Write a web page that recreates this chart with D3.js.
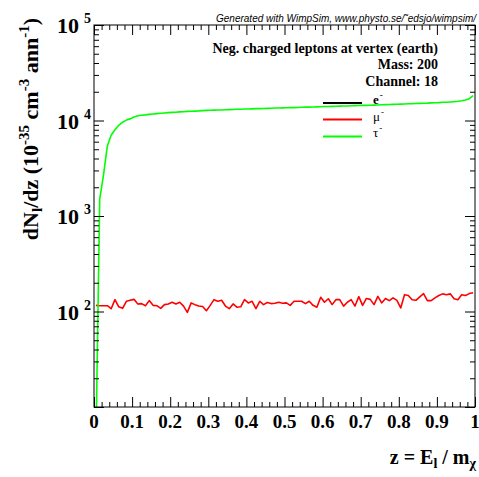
<!DOCTYPE html>
<html><head><meta charset="utf-8">
<script src="https://cdn.jsdelivr.net/npm/d3@7"></script>
<style>
body{margin:0;background:#fff}
svg{display:block}
text{font-family:"Liberation Serif","Times New Roman",serif;font-weight:bold;fill:#000}
</style>
</head><body><svg id="c" width="479" height="477"></svg>
<script>
// ---- data ----
const nBins = 100;            // histogram bins over z in [0,1]
const zDomain = [0, 1];
const xTickLabels = ["0","0.1","0.2","0.3","0.4","0.5","0.6","0.7","0.8","0.9","1"];
const xTickValues = [0,0.1,0.2,0.3,0.4,0.5,0.6,0.7,0.8,0.9,1];
const yTickExponents = [2,3,4,5];
const yDomain = [10, 1e5];
const seriesNames = ["e", "μ", "τ"];
const seriesColors = ["#000000", "#ff0000", "#00ff00"];
// e- : no visible values on this plot (zero everywhere)
const eValues = [];
const muValues = [116,115,115,115,107,133,112,108,128,131,
 134,120,121,115,130,116,115,108,118,120,
 125,120,125,114,98,123,118,114,113,102,
 116,133,128,131,114,107,120,111,112,133,
 123,128,107,128,118,124,121,122,125,122,
 123,116,128,128,128,121,128,116,111,141,
 125,136,118,133,133,114,125,133,114,143,
 116,137,134,118,144,123,137,130,139,131,
 109,150,147,133,131,142,154,130,130,139,
 147,153,150,153,136,133,150,147,154,157];
const tauValues = [4,1500,2700,5400,7000,8000,8900,9600,10100,10400,
 10900,11200,11350,11450,11600,11700,11800,11900,12000,12100,
 12150,12200,12300,12350,12450,12500,12550,12600,12700,12750,
 12800,12850,12900,12900,12950,13000,13050,13100,13100,13200,
 13200,13250,13300,13300,13350,13400,13450,13500,13500,13550,
 13600,13650,13650,13700,13750,13800,13800,13850,13900,13950,
 14000,14000,14050,14100,14150,14200,14200,14250,14300,14350,
 14400,14400,14450,14500,14550,14600,14650,14700,14750,14800,
 14850,14900,14950,15000,15050,15100,15150,15200,15300,15350,
 15400,15500,15550,15650,15750,15900,16100,16400,16900,18200];

// ---- layout ----
const L = 94, R = 475, T = 25, B = 407;
const svg = d3.select("#c");
const x = d3.scaleLinear().domain(zDomain).range([L, R]);
const y = d3.scaleLog().domain(yDomain).range([B, T]);

svg.append("defs").append("clipPath").attr("id","clip")
  .append("rect").attr("x",L).attr("y",T).attr("width",R-L).attr("height",B-T);

// curves
const binCenter = i => zDomain[0] + (i + 0.5) * (zDomain[1]-zDomain[0]) / nBins;
const line = d3.line().defined(d => d.v > 0).x(d => x(d.z)).y(d => y(d.v));
const series = [eValues, muValues, tauValues];
const gCurves = svg.append("g").attr("clip-path","url(#clip)");
series.forEach((vals, k) => {
  if (!vals.length) return;
  gCurves.append("path")
    .datum(vals.map((v,i) => ({z: binCenter(i), v})))
    .attr("fill","none").attr("stroke", seriesColors[k]).attr("stroke-width",1.6)
    .attr("stroke-linejoin","round")
    .attr("d", line);
});

// minor ticks
const xMinor = d3.range(0, 51).map(i => i/50).filter(v => Math.round(v*50) % 5 !== 0);
const yMinor = [];
[1,2,3,4].forEach(e => { for (let m = 2; m <= 9; m++) yMinor.push(m * Math.pow(10, e)); });
const yMajor = yTickExponents.map(e => Math.pow(10, e)).concat([10]);

function styleAxis(g){ g.select(".domain").remove(); g.selectAll(".tick line").attr("stroke","#000").attr("stroke-width",1); }

// bottom
svg.append("g").attr("transform",`translate(0,${B})`)
  .call(d3.axisBottom(x).tickValues(xTickValues).tickSize(-10).tickFormat(""))
  .call(styleAxis);
svg.append("g").attr("transform",`translate(0,${B})`)
  .call(d3.axisBottom(x).tickValues(xMinor).tickSize(-5).tickFormat(""))
  .call(styleAxis);
// top
svg.append("g").attr("transform",`translate(0,${T})`)
  .call(d3.axisTop(x).tickValues(xTickValues).tickSize(-10).tickFormat(""))
  .call(styleAxis);
svg.append("g").attr("transform",`translate(0,${T})`)
  .call(d3.axisTop(x).tickValues(xMinor).tickSize(-5).tickFormat(""))
  .call(styleAxis);
// left
svg.append("g").attr("transform",`translate(${L},0)`)
  .call(d3.axisLeft(y).tickValues(yMajor).tickSize(-10).tickFormat(""))
  .call(styleAxis);
svg.append("g").attr("transform",`translate(${L},0)`)
  .call(d3.axisLeft(y).tickValues(yMinor).tickSize(-5).tickFormat(""))
  .call(styleAxis);
// right
svg.append("g").attr("transform",`translate(${R},0)`)
  .call(d3.axisRight(y).tickValues(yMajor).tickSize(-10).tickFormat(""))
  .call(styleAxis);
svg.append("g").attr("transform",`translate(${R},0)`)
  .call(d3.axisRight(y).tickValues(yMinor).tickSize(-5).tickFormat(""))
  .call(styleAxis);

// frame
svg.append("rect").attr("x",L).attr("y",T).attr("width",R-L).attr("height",B-T)
  .attr("fill","none").attr("stroke","#000").attr("stroke-width",1);

// x tick labels
svg.append("g").selectAll("text").data(xTickValues).join("text")
  .attr("x", d => x(d)).attr("y", 428).attr("text-anchor","middle")
  .attr("font-size",19).text((d,i) => xTickLabels[i]);

// y tick labels 10^n
yTickExponents.forEach(e => {
  const yy = y(Math.pow(10,e));
  svg.append("text").attr("x", 79).attr("y", yy + 8)
    .attr("text-anchor","end").attr("font-size",22).text("10");
  svg.append("text").attr("x", 84).attr("y", yy - 2)
    .attr("text-anchor","start").attr("font-size",14).text(String(e));
});

// axis titles
const xt = svg.append("text").attr("x", 476).attr("y", 464).attr("text-anchor","end").attr("font-size",20);
xt.append("tspan").text("z = E");
xt.append("tspan").attr("dy",4).attr("font-size",14).text("l");
xt.append("tspan").attr("dy",-4).text(" / m");
xt.append("tspan").attr("dy",4).attr("font-size",14).text("χ");

const yt = svg.append("text").attr("transform","translate(38,18) rotate(-90)")
  .attr("text-anchor","end").attr("font-size",22);
yt.append("tspan").text("dN");
yt.append("tspan").attr("dy",4).attr("font-size",15).text("l");
yt.append("tspan").attr("dy",-4).text("/dz (10");
yt.append("tspan").attr("dy",-9).attr("font-size",15).text("-35");
yt.append("tspan").attr("dy",9).text(" cm");
yt.append("tspan").attr("dy",-9).attr("font-size",15).text("-3");
yt.append("tspan").attr("dy",9).text(" ann");
yt.append("tspan").attr("dy",-9).attr("font-size",15).text("-1");
yt.append("tspan").attr("dy",9).text(")");

// header text
svg.append("text").attr("x",476).attr("y",22).attr("text-anchor","end")
  .style("font-family",'"Liberation Sans",Arial,sans-serif').style("font-weight","normal")
  .style("font-style","italic").attr("font-size",10)
  .text("Generated with WimpSim, www.physto.se/˜edsjo/wimpsim/");

const info = ["Neg. charged leptons at vertex (earth)", "Mass: 200", "Channel: 18"];
const infoY = [53, 69, 86];
info.forEach((s,i) => svg.append("text").attr("x",438).attr("y",infoY[i])
  .attr("text-anchor","end").attr("font-size",14).text(s));

// legend
const legY = [103, 119.5, 136.5];
const legTextY = [104, 121, 136.5];
seriesNames.forEach((n,i) => {
  svg.append("line").attr("x1",323).attr("x2",362).attr("y1",legY[i]).attr("y2",legY[i])
    .attr("stroke",seriesColors[i]).attr("stroke-width",2);
  const t = svg.append("text").attr("x",373).attr("y",legTextY[i]).attr("font-size",13)
    .style("font-weight", i===0 ? "bold" : "normal");
  t.append("tspan").text(n);
  t.append("tspan").attr("dy",-6).attr("dx",1).attr("font-size",9).text("-");
});
</script>
</body></html>
